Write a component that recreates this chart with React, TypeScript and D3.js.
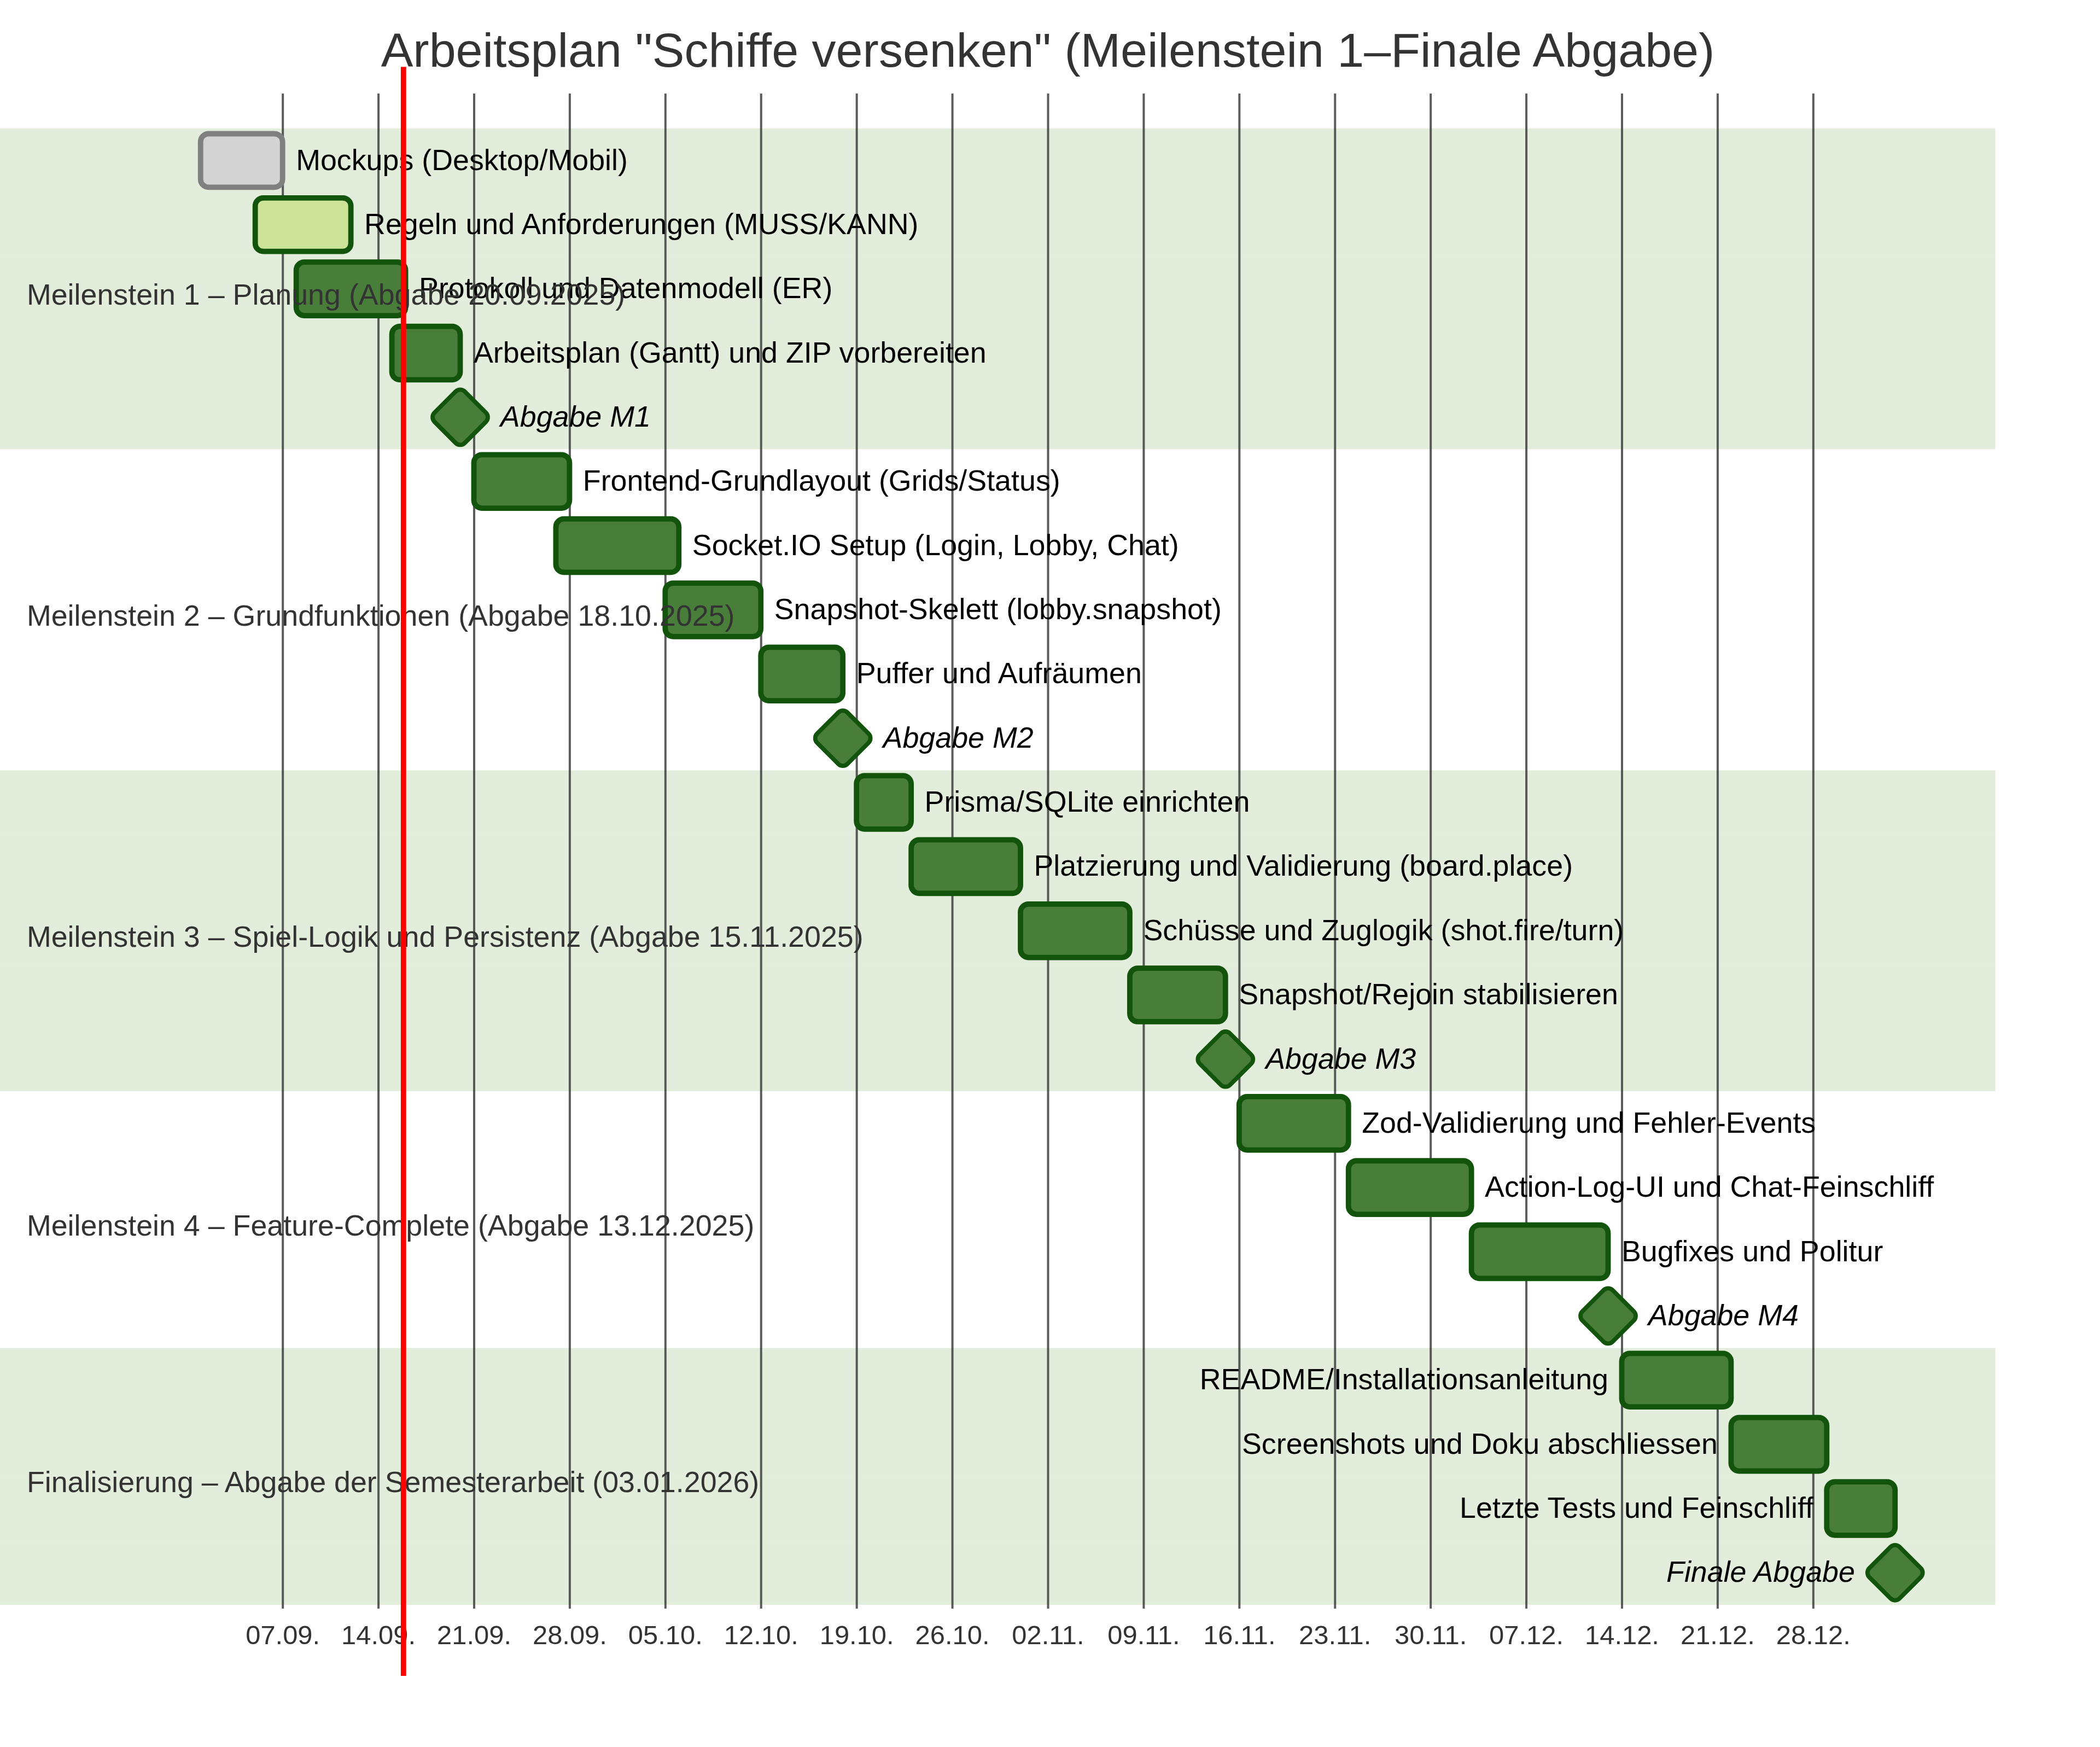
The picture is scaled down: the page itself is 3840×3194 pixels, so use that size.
import { useEffect, useRef } from "react";
import * as d3 from "d3";

// chart content
const chartTitle = 'Arbeitsplan "Schiffe versenken" (Meilenstein 1–Finale Abgabe)';

const sectionNames = [
  "Meilenstein 1 – Planung (Abgabe 20.09.2025)",
  "Meilenstein 2 – Grundfunktionen (Abgabe 18.10.2025)",
  "Meilenstein 3 – Spiel-Logik und Persistenz (Abgabe 15.11.2025)",
  "Meilenstein 4 – Feature-Complete (Abgabe 13.12.2025)",
  "Finalisierung – Abgabe der Semesterarbeit (03.01.2026)",
];

const taskNames = [
  "Mockups (Desktop/Mobil)",
  "Regeln und Anforderungen (MUSS/KANN)",
  "Protokoll und Datenmodell (ER)",
  "Arbeitsplan (Gantt) und ZIP vorbereiten",
  "Abgabe M1",
  "Frontend-Grundlayout (Grids/Status)",
  "Socket.IO Setup (Login, Lobby, Chat)",
  "Snapshot-Skelett (lobby.snapshot)",
  "Puffer und Aufräumen",
  "Abgabe M2",
  "Prisma/SQLite einrichten",
  "Platzierung und Validierung (board.place)",
  "Schüsse und Zuglogik (shot.fire/turn)",
  "Snapshot/Rejoin stabilisieren",
  "Abgabe M3",
  "Zod-Validierung und Fehler-Events",
  "Action-Log-UI und Chat-Feinschliff",
  "Bugfixes und Politur",
  "Abgabe M4",
  "README/Installationsanleitung",
  "Screenshots und Doku abschliessen",
  "Letzte Tests und Feinschliff",
  "Finale Abgabe",
];

const taskSection = [0, 0, 0, 0, 0, 1, 1, 1, 1, 1, 2, 2, 2, 2, 2, 3, 3, 3, 3, 4, 4, 4, 4];

const taskStart = [
  "2025-09-01", "2025-09-05", "2025-09-08", "2025-09-15", "2025-09-20",
  "2025-09-21", "2025-09-27", "2025-10-05", "2025-10-12", "2025-10-18",
  "2025-10-19", "2025-10-23", "2025-10-31", "2025-11-08", "2025-11-15",
  "2025-11-16", "2025-11-24", "2025-12-03", "2025-12-13",
  "2025-12-14", "2025-12-22", "2025-12-29", "2026-01-03",
];

const taskEnd = [
  "2025-09-07", "2025-09-12", "2025-09-16", "2025-09-20", "2025-09-20",
  "2025-09-28", "2025-10-06", "2025-10-12", "2025-10-18", "2025-10-18",
  "2025-10-23", "2025-10-31", "2025-11-08", "2025-11-15", "2025-11-15",
  "2025-11-24", "2025-12-03", "2025-12-13", "2025-12-13",
  "2025-12-22", "2025-12-29", "2026-01-03", "2026-01-03",
];

const taskKind = [
  "done", "active", "task", "task", "milestone",
  "task", "task", "task", "task", "milestone",
  "task", "task", "task", "task", "milestone",
  "task", "task", "task", "milestone",
  "task", "task", "task", "milestone",
];

const todayMark = "2025-09-15T20:24";

export default function App() {
  const ref = useRef<SVGSVGElement>(null);

  useEffect(() => {
    const S = 4.89;
    const width = 3840;
    const height = 3194;
    const W = 3832;
    const barH = 20 * S;
    const gap = 24 * S;
    const topPad = 50 * S;
    const sidePad = 75 * S;
    const fontSize = 11 * S;
    const font = "'Liberation Sans', Arial, sans-serif";
    const axisY = 2941;

    const parse = d3.timeParse("%Y-%m-%d");
    const starts = taskStart.map(d => parse(d) as Date);
    const ends = taskEnd.map(d => parse(d) as Date);
    const today = d3.timeParse("%Y-%m-%dT%H:%M")(todayMark) as Date;

    const x = d3.scaleTime()
      .domain([d3.min(starts) as Date, d3.max(ends) as Date])
      .range([sidePad, W - sidePad]);

    const svg = d3.select(ref.current)
      .attr("width", width)
      .attr("height", height)
      .html("");

    svg.append("rect").attr("width", width).attr("height", height).attr("fill", "#fff");

    // section backgrounds, one per row
    svg.append("g")
      .selectAll("rect")
      .data(taskNames)
      .enter()
      .append("rect")
        .attr("x", 0)
        .attr("y", (d, i) => i * gap + topPad - 2 * S)
        .attr("width", W - sidePad / 2)
        .attr("height", gap)
        .attr("fill", (d, i) => taskSection[i] % 2 === 0 ? "#6eaa49" : "#ffffff")
        .attr("opacity", (d, i) => taskSection[i] % 2 === 0 ? 0.2 : 1);

    // grid
    const grid = svg.append("g")
      .attr("transform", `translate(0,${axisY})`)
      .call(
        d3.axisBottom(x)
          .ticks(d3.timeWeek.every(1))
          .tickSize(-(axisY - 171))
          .tickPadding(16)
          .tickFormat(d => d3.timeFormat("%d.%m.")(d as Date))
      );
    grid.select(".domain").remove();
    grid.selectAll(".tick line")
      .attr("stroke", "#333")
      .attr("stroke-width", 4)
      .attr("opacity", 0.8);
    grid.selectAll(".tick text")
      .attr("fill", "#333")
      .attr("dy", "1em")
      .style("font-size", `${10 * S}px`)
      .style("font-family", font);

    // bars and milestones
    const fillOf = (k: string) => k === "done" ? "#d3d3d3" : k === "active" ? "#cde498" : "#487e3a";
    const strokeOf = (k: string) => k === "done" ? "#808080" : "#13540c";

    const bars = svg.append("g");
    taskNames.forEach((name, i) => {
      const y0 = i * gap + topPad;
      const k = taskKind[i];
      if (k === "milestone") {
        const cx = x(starts[i]);
        bars.append("rect")
          .attr("x", -barH / 2).attr("y", -barH / 2)
          .attr("width", barH).attr("height", barH)
          .attr("rx", 3 * S).attr("ry", 3 * S)
          .attr("fill", fillOf(k))
          .attr("stroke", strokeOf(k))
          .attr("stroke-width", 2 * S)
          .attr("transform", `translate(${cx},${y0 + barH / 2}) rotate(45) scale(0.8)`);
      } else {
        bars.append("rect")
          .attr("x", x(starts[i]))
          .attr("y", y0)
          .attr("width", x(ends[i]) - x(starts[i]))
          .attr("height", barH)
          .attr("rx", 3 * S).attr("ry", 3 * S)
          .attr("fill", fillOf(k))
          .attr("stroke", strokeOf(k))
          .attr("stroke-width", 2 * S);
      }
    });

    // task labels
    const labels = svg.append("g");
    taskNames.forEach((name, i) => {
      const k = taskKind[i];
      let sx = x(starts[i]);
      let ex = x(ends[i]);
      if (k === "milestone") {
        sx = x(starts[i]) - barH / 2;
        ex = sx + barH;
      }
      const t = labels.append("text")
        .attr("y", i * gap + topPad + barH / 2 + fontSize / 2 - 2 * S)
        .attr("font-size", fontSize)
        .attr("font-family", font)
        .attr("fill", "#000")
        .attr("font-style", k === "milestone" ? "italic" : "normal")
        .text(name);
      const tw = (t.node() as SVGTextElement).getComputedTextLength();
      if (ex - sidePad + tw + 1.5 * sidePad > W) {
        t.attr("x", sx - 5 * S).attr("text-anchor", "end");
      } else {
        t.attr("x", ex + 5 * S).attr("text-anchor", "start");
      }
    });

    // section titles
    let before = 0;
    sectionNames.forEach((name, s) => {
      const n = taskSection.filter(v => v === s).length;
      svg.append("text")
        .attr("x", 10 * S)
        .attr("y", topPad + (before + n / 2) * gap)
        .attr("dy", "0.36em")
        .attr("font-size", fontSize)
        .attr("font-family", font)
        .attr("fill", "#333")
        .text(name);
      before += n;
    });

    // title
    svg.append("text")
      .attr("x", W / 2)
      .attr("y", 25 * S)
      .attr("text-anchor", "middle")
      .attr("font-size", 18 * S)
      .attr("font-family", font)
      .attr("fill", "#333")
      .text(chartTitle);

    // today marker
    svg.append("line")
      .attr("x1", x(today)).attr("x2", x(today))
      .attr("y1", 25 * S).attr("y2", 3064)
      .attr("stroke", "red")
      .attr("stroke-width", 2 * S);
  }, []);

  return (
    <svg ref={ref} style={{ position: "absolute", left: 0, top: 0, display: "block" }} />
  );
}
